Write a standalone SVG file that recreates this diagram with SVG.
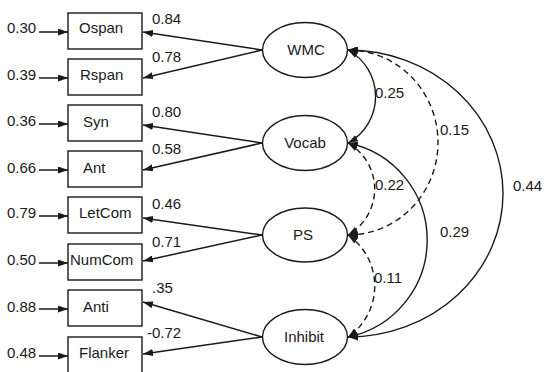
<svg xmlns="http://www.w3.org/2000/svg" width="545" height="372" viewBox="0 0 545 372">
<defs>
<marker id="ah" viewBox="0 0 10 7" refX="10" refY="3.5" markerWidth="10" markerHeight="7" markerUnits="userSpaceOnUse" orient="auto-start-reverse">
<path d="M0,0 L10,3.5 L0,7 z" fill="#1a1a1a"/>
</marker>
</defs>
<style>
text{font-family:"Liberation Sans",Arial,sans-serif;font-size:15px;fill:#1a1a1a}
.box{fill:#fff;stroke:#1a1a1a;stroke-width:1.4}
.lat{fill:#fff;stroke:#1a1a1a;stroke-width:1.4}
.arr{fill:none;stroke:#1a1a1a;stroke-width:1.5;marker-end:url(#ah)}
.cov{fill:none;stroke:#1a1a1a;stroke-width:1.4;marker-start:url(#ah);marker-end:url(#ah)}
.dash{stroke-dasharray:6 4}
.mid{text-anchor:middle}
</style>
<g id="connectors">
<line class="arr" x1="39" y1="32" x2="68" y2="32"/>
<line class="arr" x1="39" y1="78" x2="68" y2="78"/>
<line class="arr" x1="39" y1="124" x2="68" y2="124"/>
<line class="arr" x1="39" y1="170" x2="68" y2="170"/>
<line class="arr" x1="39" y1="216" x2="68" y2="216"/>
<line class="arr" x1="39" y1="263" x2="68" y2="263"/>
<line class="arr" x1="39" y1="309" x2="68" y2="309"/>
<line class="arr" x1="39" y1="356" x2="68" y2="356"/>
<line class="arr" x1="262" y1="50" x2="143" y2="32"/>
<line class="arr" x1="262" y1="50" x2="143" y2="78"/>
<line class="arr" x1="262" y1="143" x2="143" y2="125"/>
<line class="arr" x1="262" y1="143" x2="143" y2="170"/>
<line class="arr" x1="262" y1="235" x2="143" y2="218"/>
<line class="arr" x1="262" y1="235" x2="143" y2="261"/>
<line class="arr" x1="262" y1="337" x2="143" y2="302"/>
<line class="arr" x1="262" y1="337" x2="143" y2="354"/>
<path class="cov" d="M348,50 A53,53 0 0 1 348,143"/>
<path class="cov dash" d="M348,143 A53,53 0 0 1 348,235"/>
<path class="cov dash" d="M348,235 A62,62 0 0 1 348,337"/>
<path class="cov dash" d="M348,50 A90,92.5 0 0 1 348,235"/>
<path class="cov" d="M348,143 A99,99 0 0 1 348,337"/>
<path class="cov" d="M348,50 A155,143.5 0 0 1 348,337"/>
</g>
<g id="err-labels">
<text x="7" y="33">0.30</text>
<text x="7" y="80">0.39</text>
<text x="7" y="126">0.36</text>
<text x="7" y="173">0.66</text>
<text x="7" y="218">0.79</text>
<text x="7" y="265">0.50</text>
<text x="7" y="312">0.88</text>
<text x="7" y="358">0.48</text>
</g>
<g id="Ospan"><rect class="box" x="68" y="13" width="74" height="36"/><text x="79" y="33">Ospan</text></g>
<g id="Rspan"><rect class="box" x="68" y="59" width="74" height="36"/><text x="80" y="80">Rspan</text></g>
<g id="Syn"><rect class="box" x="68" y="105" width="74" height="36"/><text x="83" y="127">Syn</text></g>
<g id="Ant"><rect class="box" x="68" y="151" width="74" height="36"/><text x="83" y="173">Ant</text></g>
<g id="LetCom"><rect class="box" x="68" y="197" width="74" height="36"/><text x="79" y="218">LetCom</text></g>
<g id="NumCom"><rect class="box" x="68" y="244" width="74" height="36"/><text x="70" y="265">NumCom</text></g>
<g id="Anti"><rect class="box" x="68" y="290" width="74" height="36"/><text x="83" y="312">Anti</text></g>
<g id="Flanker"><rect class="box" x="68" y="337" width="74" height="36"/><text x="79" y="358">Flanker</text></g>
<g id="WMC"><ellipse class="lat" cx="305" cy="50" rx="42.5" ry="27.5"/><text class="mid" x="306" y="55">WMC</text></g>
<g id="Vocab"><ellipse class="lat" cx="305" cy="143" rx="42.5" ry="27.5"/><text class="mid" x="305" y="148">Vocab</text></g>
<g id="PS"><ellipse class="lat" cx="305" cy="235" rx="42.5" ry="27"/><text class="mid" x="303" y="240">PS</text></g>
<g id="Inhibit"><ellipse class="lat" cx="305" cy="337" rx="42.5" ry="27.5"/><text class="mid" x="304" y="342">Inhibit</text></g>
<g id="load-labels">
<text x="152" y="24">0.84</text>
<text x="152" y="62">0.78</text>
<text x="152" y="117">0.80</text>
<text x="152" y="154">0.58</text>
<text x="152" y="209">0.46</text>
<text x="152" y="247">0.71</text>
<text x="152" y="293">.35</text>
<text x="147" y="338">-0.72</text>
</g>
<g id="cov-labels">
<text x="375" y="98">0.25</text>
<text x="440" y="135">0.15</text>
<text x="375" y="190">0.22</text>
<text x="513" y="191">0.44</text>
<text x="440" y="237">0.29</text>
<text x="374" y="283">0.11</text>
</g>
</svg>
